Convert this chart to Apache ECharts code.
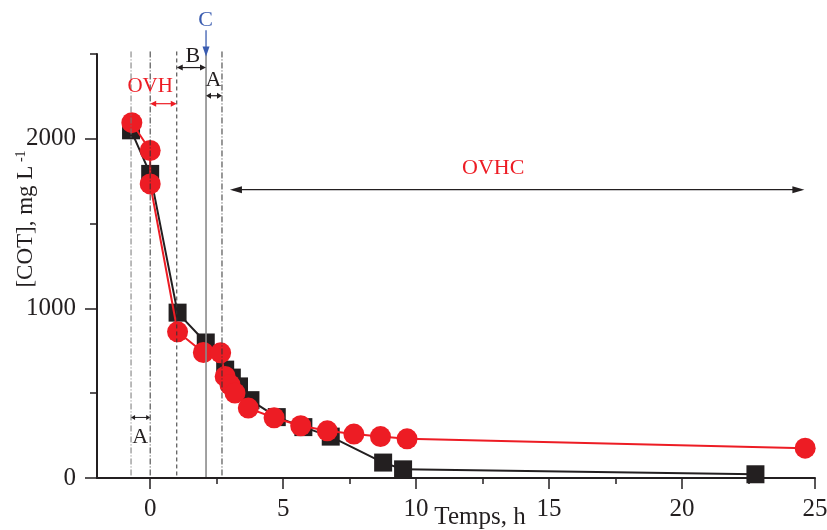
<!DOCTYPE html>
<html><head><meta charset="utf-8">
<script src="https://cdn.jsdelivr.net/npm/echarts@6/dist/echarts.min.js"></script>
<style>html,body{margin:0;padding:0;background:#fff}#c{width:827px;height:530px}</style>
</head><body><div id="c"></div>
<script>
// ---- data ----
const timeBlack = [-0.72, 0, 1.03, 2.09, 2.82, 3.07, 3.34, 3.77, 4.76, 5.76, 6.79, 8.76, 9.51, 22.76];
const cotBlack  = [2050, 1793, 975, 799, 639, 592, 540, 459, 359, 300, 244, 91, 51, 22];
const timeRed   = [-0.69, 0, 0, 1.03, 2.0, 2.65, 2.82, 3.0, 3.19, 3.69, 4.66, 5.66, 6.66, 7.66, 8.66, 9.66, 24.63];
const cotRed    = [2095, 1931, 1734, 862, 740, 738, 599, 550, 501, 412, 355, 308, 278, 259, 244, 231, 176];

const xLabelTicks = [0, 5, 10, 15, 20, 25];
const xMinorTicks = [2.5, 7.5, 12.5, 17.5, 22.5];
const yLabelTicks = [0, 1000, 2000];
const yMinorTicks = [500, 1500, 2500];

// annotation positions in data units
const vLineX = [-0.72, 0, 1.0, 2.1, 2.7];
const annotTexts = ['C', 'B', 'A', 'OVH', 'OVHC', 'A'];

const SERIF = "'Liberation Serif','DejaVu Serif',serif";
const INK = '#231f20';
const RED = '#ed1c24';
const BLUE = '#3a5cb0';

const chart = echarts.init(document.getElementById('c'), null, {renderer: 'canvas'});

const blackData = timeBlack.map((t, i) => [t, cotBlack[i]]);
const redData = timeRed.map((t, i) => [t, cotRed[i]]);

const xBase = {
  type: 'value', min: -2, max: 25, position: 'bottom',
  splitLine: {show: false}
};
const yBase = {
  type: 'value', min: 0, max: 2500, position: 'left',
  splitLine: {show: false}
};
const plain = v => String(v);

chart.setOption({
  animation: false,
  backgroundColor: '#fff',
  grid: {left: 97, right: 12, top: 54, bottom: 52, containLabel: false, outerBoundsMode: 'none'},
  xAxis: [
    Object.assign({}, xBase, {
      axisLine: {onZero: false, lineStyle: {color: INK, width: 2}},
      axisTick: {show: true, inside: false, length: 11, lineStyle: {color: INK, width: 1.5}, customValues: xLabelTicks},
      axisLabel: {customValues: xLabelTicks, formatter: plain, margin: 19, fontFamily: SERIF, fontSize: 25, color: INK}
    }),
    Object.assign({}, xBase, {
      axisLine: {show: false, onZero: false},
      axisTick: {show: true, inside: false, length: 6, lineStyle: {color: INK, width: 1.5}, customValues: xMinorTicks},
      axisLabel: {show: false}
    })
  ],
  yAxis: [
    Object.assign({}, yBase, {
      axisLine: {show: true, onZero: false, lineStyle: {color: INK, width: 2}},
      axisTick: {show: true, inside: false, length: 12, lineStyle: {color: INK, width: 1.5}, customValues: yLabelTicks},
      axisLabel: {customValues: yLabelTicks, formatter: plain, margin: 21, fontFamily: SERIF, fontSize: 25, color: INK}
    }),
    Object.assign({}, yBase, {
      axisLine: {show: false, onZero: false},
      axisTick: {show: true, inside: false, length: 7, lineStyle: {color: INK, width: 1.5}, customValues: yMinorTicks},
      axisLabel: {show: false}
    })
  ],
  series: [
    {
      type: 'line', name: 'black', xAxisIndex: 0, yAxisIndex: 0,
      data: blackData, symbol: 'rect', symbolSize: 18, showAllSymbol: true,
      lineStyle: {color: INK, width: 2}, itemStyle: {color: INK}, z: 3
    },
    {
      type: 'line', name: 'red', xAxisIndex: 0, yAxisIndex: 0,
      data: redData, symbol: 'circle', symbolSize: 21, showAllSymbol: true,
      lineStyle: {color: RED, width: 2}, itemStyle: {color: RED}, z: 4
    }
  ]
});

// ---- annotations via the axis scales ----
function px(x, y) { return chart.convertToPixel({gridIndex: 0}, [x, y]); }
function head(tip, dir, len, w, color) {
  const bx = tip[0] - dir[0] * len, by = tip[1] - dir[1] * len;
  const nx = -dir[1], ny = dir[0];
  return {type: 'polygon', z: 100, shape: {points: [tip, [bx + nx * w, by + ny * w], [bx - nx * w, by - ny * w]]}, style: {fill: color}};
}
function hArrow(x1, x2, y, color, both, len, w, lw) {
  const a = px(x1, y), b = px(x2, y);
  const els = [{type: 'line', z: 100, shape: {x1: a[0] + (both ? 3 : 0), y1: a[1], x2: b[0] - 3, y2: b[1]}, style: {stroke: color, lineWidth: lw}}];
  els.push(head(b, [1, 0], len, w, color));
  if (both) els.push(head(a, [-1, 0], len, w, color));
  return els;
}
function label(text, x, y, color, size) {
  const p = px(x, y);
  return {type: 'text', z: 100, x: p[0], y: p[1], style: {text: text, fill: color, font: size + 'px ' + SERIF, align: 'center', verticalAlign: 'middle'}};
}

const g = [];
const lineStyles = [
  {stroke: '#777', lineWidth: 1, lineDash: [6, 2, 1, 2]},
  {stroke: '#333', lineWidth: 1, lineDash: [6, 2, 1, 2]},
  {stroke: '#333', lineWidth: 1, lineDash: [4, 3]},
  {stroke: '#8a8a8a', lineWidth: 1.6},
  {stroke: '#333', lineWidth: 1, lineDash: [6, 2, 1, 2]}
];
vLineX.forEach((x, i) => {
  const top = px(x, 2515), bot = px(x, 0);
  g.push({type: 'line', z: 100, shape: {x1: top[0], y1: top[1], x2: bot[0], y2: bot[1] - 1}, style: lineStyles[i]});
});
// C arrow (blue)
const cTop = px(2.1, 2640), cTip = px(2.1, 2485);
g.push({type: 'line', z: 100, shape: {x1: cTop[0], y1: cTop[1], x2: cTip[0], y2: cTip[1] - 6}, style: {stroke: BLUE, lineWidth: 1.3}});
g.push(head(cTip, [0, 1], 10, 3.5, BLUE));
g.push(label(annotTexts[0], 2.08, 2700, BLUE, 22));
// B arrow
g.push(...hArrow(1.0, 2.1, 2420, INK, true, 6, 3, 1.2));
g.push(label(annotTexts[1], 1.6, 2487, INK, 22));
// A arrow (top)
g.push(...hArrow(2.1, 2.7, 2254, INK, true, 5, 3, 1.2));
g.push(label(annotTexts[2], 2.38, 2345, INK, 22));
// OVH
g.push(...hArrow(0, 1.0, 2207, RED, true, 6, 3, 1.2));
g.push(label(annotTexts[3], 0, 2308, RED, 21));
// OVHC
g.push(...hArrow(3.0, 24.6, 1700, INK, true, 12, 3.5, 1.3));
g.push(label(annotTexts[4], 12.9, 1828, RED, 22));
// A arrow (bottom)
g.push(...hArrow(-0.72, 0, 357, INK, true, 4, 2.5, 1));
g.push(label(annotTexts[5], -0.38, 243, INK, 22));

// axis titles
g.push({type: 'text', z: 100, x: 480, y: 517, style: {text: 'Temps, h', fill: INK, font: '25px ' + SERIF, align: 'center', verticalAlign: 'middle'}});
g.push({type: 'text', z: 100, x: 26, y: 219, rotation: Math.PI / 2,
  style: {text: '{a|[COT], mg L}{s| -1}', align: 'center', verticalAlign: 'middle',
    rich: {a: {font: '23px ' + SERIF, fill: INK}, s: {font: '14px ' + SERIF, fill: INK, verticalAlign: 'top'}}}});

chart.setOption({graphic: {elements: g}});
</script>
</body></html>
